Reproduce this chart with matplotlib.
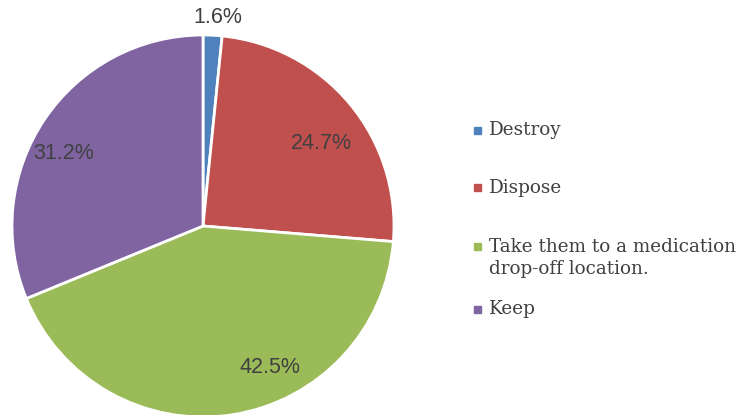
import matplotlib
matplotlib.use("Agg")
from matplotlib import pyplot as plt
from matplotlib.patches import Rectangle

categories = ["Destroy", "Dispose", "Take them to a medication\ndrop-off location.", "Keep"]
values = [1.6, 24.7, 42.5, 31.2]
colors = ["#4F81BD", "#C0504D", "#9BBB59", "#8064A2"]

# label spots in units of the radius (Excel put them by hand)
label_pos = [(0.08, 1.09), (0.62, 0.43), (0.35, -0.74), (-0.73, 0.38)]

W, H = 740, 415
fig = plt.figure(figsize=(W / 100, H / 100), dpi=100)

cx, cy, r = 203, 226, 191
ax = fig.add_axes([(cx - r) / W, (H - cy - r) / H, 2 * r / W, 2 * r / H])
wedges, texts, autotexts = ax.pie(values, colors=colors, startangle=90, counterclock=False,
                                  autopct="%.1f%%", radius=1,
                                  wedgeprops=dict(edgecolor="white", linewidth=2))
for t, (x, y) in zip(autotexts, label_pos):
    t.set_position((x, y))
    t.set_fontsize(15.5)
    t.set_color("#404040")
    t.set_family("Liberation Sans")
ax.set_xlim(-1, 1)
ax.set_ylim(-1, 1)
ax.set_aspect("auto")
ax.axis("off")

# legend, drawn by hand to keep Excel's spacing
legend_y = [130, 188, 247, 309]
for lab, col, y in zip(categories, colors, legend_y):
    fig.patches.append(Rectangle((474 / W, (H - y - 3.5) / H), 7 / W, 7 / H,
                                 transform=fig.transFigure, color=col))
    if "\n" in lab:
        fig.text(489 / W, (H - y + 9) / H, lab, fontsize=13.2, family="DejaVu Serif",
                 color="#404040", va="top", linespacing=1.25)
    else:
        fig.text(489 / W, (H - y) / H, lab, fontsize=13.2, family="DejaVu Serif",
                 color="#404040", va="center")

fig.savefig("out.png", dpi=100)
